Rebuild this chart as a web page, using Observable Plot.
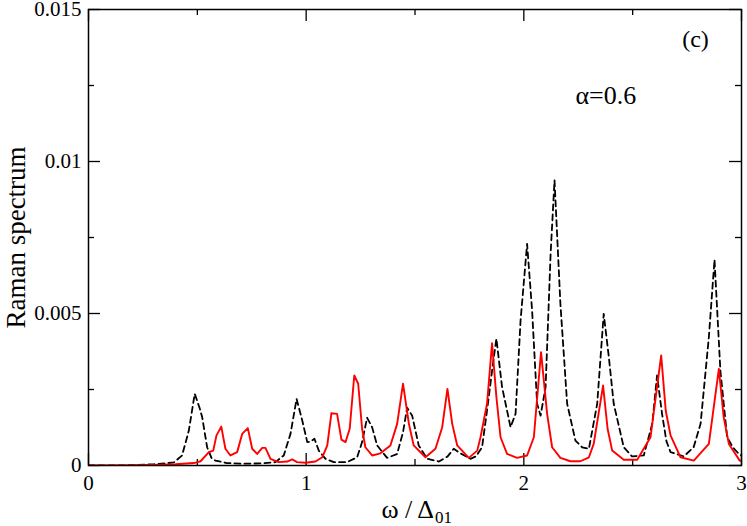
<!DOCTYPE html>
<html>
<head>
<meta charset="utf-8">
<script src="https://cdn.jsdelivr.net/npm/d3@7"></script>
<script src="https://cdn.jsdelivr.net/npm/@observablehq/plot@0.6"></script>
<style>
  html, body { margin: 0; padding: 0; background: white; }
  #chart { width: 747px; height: 526px; }
  #chart svg, #chart svg text { font-family: "Liberation Serif", "Times New Roman", serif !important; }
</style>
</head>
<body>
<div id="chart"></div>
<script>
// Black dashed series
const blackX = [0, 0.1, 0.2, 0.3, 0.35, 0.392, 0.43, 0.461, 0.488, 0.51, 0.522, 0.545, 0.565, 0.583, 0.637, 0.7, 0.8, 0.859, 0.897, 0.928, 0.956, 0.982, 1.005, 1.02, 1.038, 1.058, 1.089, 1.127, 1.188, 1.234, 1.257, 1.28, 1.303, 1.326, 1.372, 1.418, 1.445, 1.464, 1.487, 1.517, 1.556, 1.61, 1.65, 1.678, 1.709, 1.755, 1.78, 1.808, 1.831, 1.862, 1.874, 1.9, 1.939, 1.962, 1.985, 2.015, 2.038, 2.061, 2.077, 2.1, 2.123, 2.141, 2.168, 2.199, 2.237, 2.268, 2.299, 2.337, 2.367, 2.39, 2.413, 2.459, 2.497, 2.551, 2.59, 2.612, 2.635, 2.655, 2.674, 2.735, 2.78, 2.812, 2.85, 2.876, 2.903, 2.934, 2.96, 2.988, 3.0];
const blackY = [0, 0, 0.00001, 0.00004, 0.00007, 0.0001, 0.00033, 0.00115, 0.00236, 0.0019, 0.0016, 0.0006, 0.00025, 0.00016, 0.00008, 0.00006, 0.00007, 0.00011, 0.00033, 0.00104, 0.00219, 0.00148, 0.00077, 0.00078, 0.00088, 0.00049, 0.00022, 0.00011, 0.00011, 0.00027, 0.00077, 0.00157, 0.00126, 0.00066, 0.00025, 0.00038, 0.0011, 0.0019, 0.00164, 0.00066, 0.00022, 0.00013, 0.0003, 0.00055, 0.0004, 0.00022, 0.0003, 0.0006, 0.00181, 0.00356, 0.00417, 0.00258, 0.00126, 0.0017, 0.00477, 0.00729, 0.0051, 0.00203, 0.00164, 0.00258, 0.00696, 0.00938, 0.00532, 0.00203, 0.00082, 0.0006, 0.00055, 0.00203, 0.00499, 0.0036, 0.00203, 0.0006, 0.0003, 0.00033, 0.00137, 0.00296, 0.0017, 0.0008, 0.00044, 0.0003, 0.0006, 0.00137, 0.00422, 0.00677, 0.00312, 0.00093, 0.0006, 0.00038, 0.00033];

// Red solid series
const redX = [0, 0.2, 0.3, 0.4, 0.484, 0.515, 0.553, 0.573, 0.588, 0.61, 0.629, 0.652, 0.683, 0.706, 0.732, 0.752, 0.775, 0.798, 0.813, 0.836, 0.874, 0.913, 0.936, 0.958, 0.997, 1.043, 1.074, 1.097, 1.116, 1.142, 1.162, 1.181, 1.2, 1.221, 1.239, 1.257, 1.272, 1.303, 1.341, 1.387, 1.418, 1.445, 1.472, 1.494, 1.548, 1.594, 1.625, 1.649, 1.671, 1.694, 1.747, 1.786, 1.801, 1.831, 1.854, 1.874, 1.893, 1.923, 1.969, 2.015, 2.046, 2.079, 2.107, 2.13, 2.168, 2.214, 2.26, 2.299, 2.321, 2.364, 2.385, 2.406, 2.459, 2.521, 2.582, 2.631, 2.652, 2.674, 2.72, 2.781, 2.85, 2.896, 2.918, 2.942, 2.992, 3.0];
const redY = [0, 0.00001, 0.00002, 0.00004, 0.00008, 0.00014, 0.00044, 0.00049, 0.00099, 0.00128, 0.00055, 0.00033, 0.00044, 0.00104, 0.00123, 0.00055, 0.00038, 0.00058, 0.00058, 0.00022, 0.00011, 0.00013, 0.0002, 0.00011, 0.00009, 0.00013, 0.00027, 0.00066, 0.00172, 0.0017, 0.00085, 0.00077, 0.00121, 0.00296, 0.00269, 0.00121, 0.0006, 0.00033, 0.0004, 0.00066, 0.00137, 0.00269, 0.00137, 0.00066, 0.00027, 0.00055, 0.00126, 0.00252, 0.00137, 0.00066, 0.00025, 0.00049, 0.00093, 0.00203, 0.00402, 0.00225, 0.00093, 0.00038, 0.00025, 0.00033, 0.00093, 0.00373, 0.0017, 0.0006, 0.00025, 0.00014, 0.00014, 0.00027, 0.00071, 0.00263, 0.0012, 0.00049, 0.00019, 0.00019, 0.00093, 0.00362, 0.0018, 0.00099, 0.00027, 0.00016, 0.00071, 0.00318, 0.0016, 0.00071, 0.00016, 0.00014];

// Ticks
const xMajor = [0, 1, 2, 3];
const xMinor = [0.5, 1.5, 2.5];
const xTickLabels = ["0", "1", "2", "3"];
const yMajor = [0, 0.005, 0.01, 0.015];
const yMinor = [0.0025, 0.0075, 0.0125];
const yTickLabels = ["0", "0.005", "0.01", "0.015"];

const blackData = blackX.map((x, i) => ({x, y: blackY[i]}));
const redData = redX.map((x, i) => ({x, y: redY[i]}));

const W = 747, H = 526;
const mL = 88, mR = 6, mT = 9, mB = 61;
const innerW = W - mL - mR, innerH = H - mT - mB;
const major = 12, minor = 6;
const font = "Liberation Serif";

const chart = Plot.plot({
  width: W, height: H,
  marginLeft: mL, marginRight: mR, marginTop: mT, marginBottom: mB,
  style: {fontFamily: font, background: "white", color: "black", overflow: "visible"},
  x: {domain: [0, 3], label: null},
  y: {domain: [0, 0.015], label: null},
  marks: [
    Plot.axisX(xMajor, {anchor: "bottom", tickSize: 0, tickPadding: 10, fontSize: 21, fontFamily: font, tickFormat: d => xTickLabels[xMajor.indexOf(d)], label: null}),
    Plot.axisY(yMajor, {anchor: "left", tickSize: 0, tickPadding: 7, fontSize: 21, fontFamily: font, tickFormat: d => yTickLabels[yMajor.indexOf(d)], label: null}),
    // inward ticks, all four sides
    Plot.tickX(xMajor, {insetTop: innerH - major, strokeWidth: 1.3}),
    Plot.tickX(xMajor, {insetBottom: innerH - major, strokeWidth: 1.3}),
    Plot.tickX(xMinor, {insetTop: innerH - minor, strokeWidth: 1.3}),
    Plot.tickX(xMinor, {insetBottom: innerH - minor, strokeWidth: 1.3}),
    Plot.tickY(yMajor, {insetRight: innerW - major, strokeWidth: 1.3}),
    Plot.tickY(yMajor, {insetLeft: innerW - major, strokeWidth: 1.3}),
    Plot.tickY(yMinor, {insetRight: innerW - minor, strokeWidth: 1.3}),
    Plot.tickY(yMinor, {insetLeft: innerW - minor, strokeWidth: 1.3}),
    Plot.line(blackData, {x: "x", y: "y", stroke: "black", strokeWidth: 1.8, strokeDasharray: "6,4", clip: true}),
    Plot.line(redData, {x: "x", y: "y", stroke: "#ff0000", strokeWidth: 1.9, clip: true}),
    Plot.frame({stroke: "black", strokeWidth: 1.5}),
    // annotations
    Plot.text(["(c)"], {frameAnchor: "top-right", dx: -46, dy: 37, lineAnchor: "bottom", textAnchor: "middle", fontSize: 24, fontFamily: font}),
    Plot.text(["α=0.6"], {frameAnchor: "top-right", dx: -166, dy: 94, lineAnchor: "bottom", textAnchor: "start", fontSize: 26, fontFamily: font}),
    // axis titles
    Plot.text(["Raman spectrum"], {frameAnchor: "left", rotate: -90, dx: -72, fontSize: 27, textAnchor: "middle", fontFamily: font}),
    Plot.text(["ω / Δ"], {frameAnchor: "bottom", dx: 19, dy: 52, lineAnchor: "bottom", textAnchor: "end", fontSize: 26, fontFamily: font}),
    Plot.text(["01"], {frameAnchor: "bottom", dx: 20, dy: 57, lineAnchor: "bottom", textAnchor: "start", fontSize: 17, fontFamily: font})
  ]
});
document.getElementById("chart").appendChild(chart);
</script>
</body>
</html>
